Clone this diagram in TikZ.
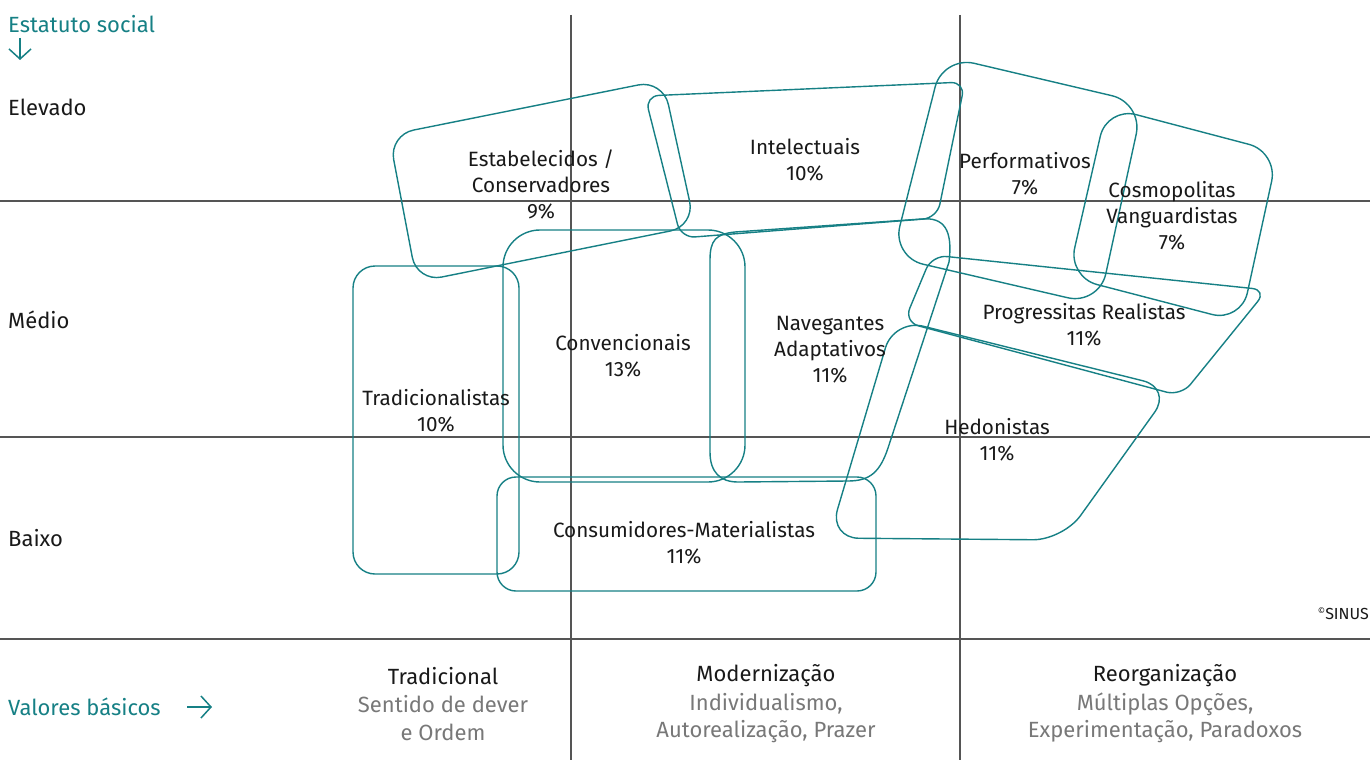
\documentclass[tikz,border=0pt]{standalone}
\usepackage{fontspec}
\setmainfont{Fira Sans}
\usetikzlibrary{arrows.meta}
\definecolor{teal1}{RGB}{22,128,133}
\definecolor{gridc}{RGB}{85,85,85}
\definecolor{subgray}{RGB}{120,120,120}
\definecolor{ink}{RGB}{25,25,25}
\newcommand\lblsize{\fontsize{20.7}{26}\selectfont}
\newcommand\axsize{\fontsize{22}{27.5}\selectfont}
\tikzset{
  seg/.style={draw=teal1, line width=1.4pt},
  gridline/.style={draw=gridc, line width=1.1pt},
  lbl/.style={font=\lblsize, align=center, text=ink, inner sep=0pt},
  axis/.style={font=\axsize, text=teal1, inner sep=0pt, anchor=west},
  level/.style={font=\axsize, text=ink, inner sep=0pt, anchor=west},
  coltitle/.style={font=\axsize, align=center, text=ink, inner sep=0pt},
  subtxt/.style={font=\axsize, align=center, text=subgray, inner sep=0pt},
  arr/.style={draw=teal1, line width=1.5pt, -{Straight Barb[length=10pt,width=22pt,line width=1.5pt]}}
}
\begin{document}
\begin{tikzpicture}[x=1pt,y=-1pt]
\useasboundingbox (0,0) rectangle (1370,760);
\fill[white] (0,0) rectangle (1370,760);
% grid
\draw[gridline] (571,15) -- (571,760);
\draw[gridline] (960,15) -- (960,760);
\draw[gridline] (0,201) -- (1370,201);
\draw[gridline] (0,437) -- (1370,437);
\draw[gridline] (0,639) -- (1370,639);
% milieu shapes
\draw[seg, rounded corners=25pt] (389,135) -- (663,80) -- (695,226) -- (417,282) -- cycle;
\draw[seg, rounded corners=14pt] (645,96) -- (965,82) -- (937,218) -- (681,238) -- cycle;
\draw[seg, rounded corners=32pt] (943,56) -- (1143,103) -- (1099,305) -- (892,257) -- cycle;
\draw[seg, rounded corners=30pt] (1107,107) -- (1278,152) -- (1241,322) -- (1068,277) -- cycle;
\draw[seg, rounded corners=15pt] (932,255) -- (1267,290) -- (1181,396) -- (904,322) -- cycle;
\draw[seg, rounded corners=30pt] (894,319) -- (1172,388) -- (1063,540) -- (829,538) -- cycle;
\draw[seg] (710,260) .. controls (710,240) and (716,234) .. (735,232) -- (922,219)
  .. controls (944,217) and (953,230) .. (949,262) -- (888,448)
  .. controls (880,472) and (870,481) .. (848,481) -- (738,482)
  .. controls (720,482) and (710,472) .. (710,452) -- cycle;
\draw[seg, rounded corners=37pt] (503,230) rectangle (745,482);
\draw[seg, rounded corners=22pt] (353,266) rectangle (519,574);
\draw[seg, rounded corners=19pt] (497,477) rectangle (876,591);
% labels
\node[lbl] (estab) at (541,184) {Estabelecidos /\\Conservadores\\9\%};
\node[lbl] (intel) at (805,160) {Intelectuais\\10\%};
\node[lbl] (perf) at (1025,174) {Performativos\\7\%};
\node[lbl] (cosmo) at (1172,216) {Cosmopolitas\\Vanguardistas\\7\%};
\node[lbl] (prog) at (1084,325) {Progressitas Realistas\\11\%};
\node[lbl] (nav) at (830,350) {Navegantes\\Adaptativos\\11\%};
\node[lbl] (conv) at (623,356) {Convencionais\\13\%};
\node[lbl] (trad) at (436,411) {Tradicionalistas\\10\%};
\node[lbl] (hed) at (997,440) {Hedonistas\\11\%};
\node[lbl] (cons) at (684,543) {Consumidores-Materialistas\\11\%};
% axes
\node[axis] (status) at (8,24) {Estatuto social};
\coordinate (sa) at (20,38);
\coordinate (sb) at (20,60);
\draw[arr] (sa) -- (sb);
\node[level] (elev) at (8,107) {Elevado};
\node[level] (medio) at (8,320) {Médio};
\node[level] (baixo) at (8,538) {Baixo};
\node[axis] (valores) at (8,707) {Valores básicos};
\coordinate (va) at (187,707);
\coordinate (vb) at (212,707);
\draw[arr] (va) -- (vb);
% bottom columns
\node[coltitle] (c1) at (443,676) {Tradicional};
\node[subtxt] (c1s) at (443,718) {Sentido de dever\\e Ordem};
\node[coltitle] (c2) at (766,676) {Modernização};
\node[subtxt] (c2s) at (766,718) {Individualismo,\\Autorealização, Prazer};
\node[coltitle] (c3) at (1165,676) {Reorganização};
\node[subtxt] (c3s) at (1165,718) {Múltiplas Opções,\\Experimentação, Paradoxos};
\node[inner sep=0pt, anchor=east, text=ink, font=\fontsize{16}{18}\selectfont] (sinus) at (1369,614) {\raisebox{0.55ex}{\fontsize{9}{10}\selectfont ©}SINUS};
\end{tikzpicture}
\end{document}
